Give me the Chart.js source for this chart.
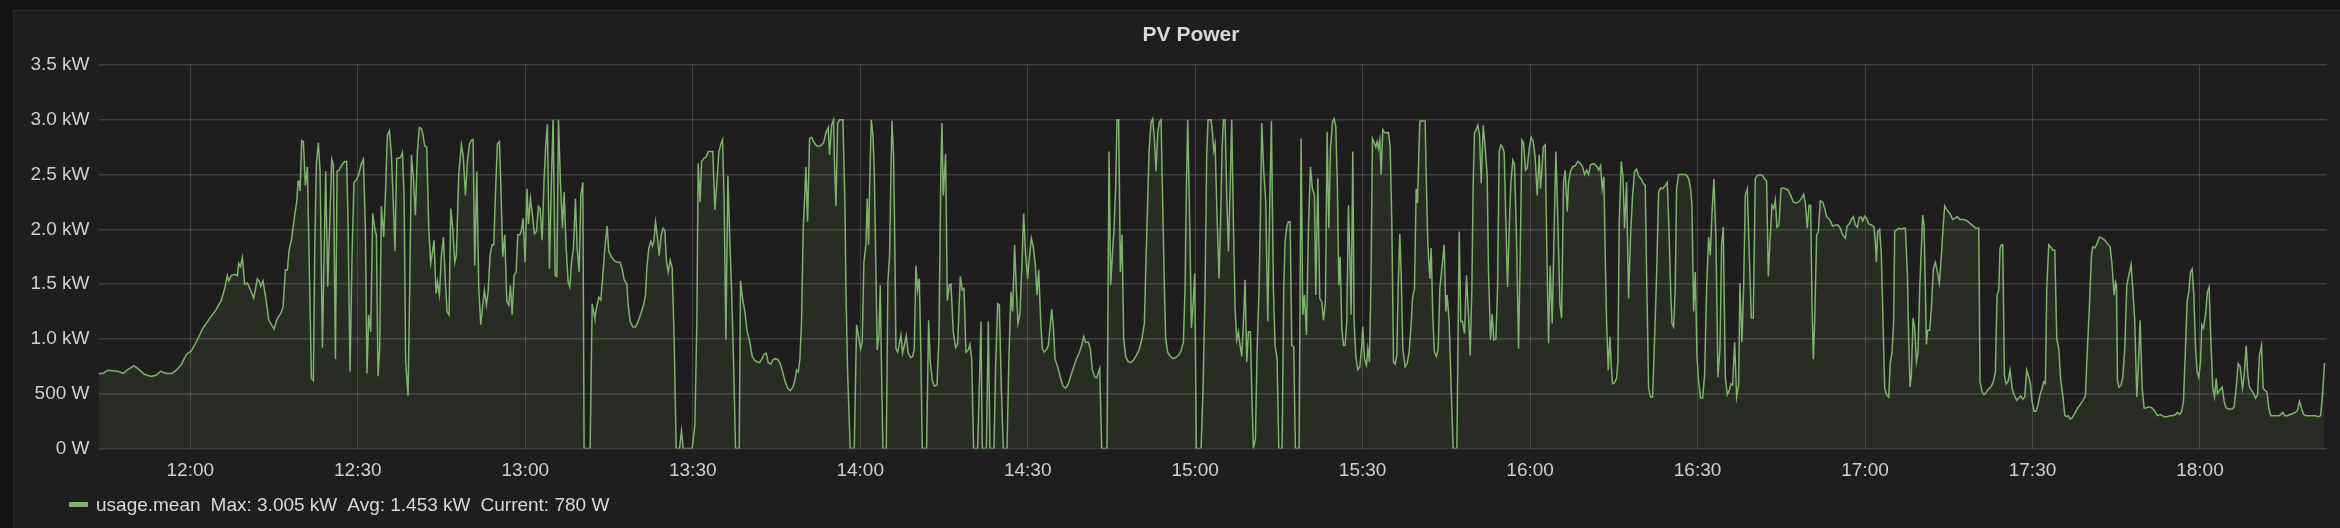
<!DOCTYPE html>
<html>
<head>
<meta charset="utf-8">
<title>PV Power</title>
<script src="https://cdn.jsdelivr.net/npm/chart.js@4.4.1/dist/chart.umd.min.js"></script>
<style>
  html, body { margin: 0; padding: 0; }
  body {
    width: 2340px; height: 528px; overflow: hidden; position: relative;
    background: #141414;
    font-family: "Liberation Sans", Arial, sans-serif;
  }
  .panel {
    position: absolute; left: 13px; top: 10px; right: 0; bottom: 0;
    background: #1f1d1e; border-top: 1px solid #2a2a2a; border-left: 1px solid #262626;
  }
  #chart { position: absolute; left: 0; top: 0; }
  .title {
    position: absolute; left: 1041px; width: 300px; top: 22px; line-height: 24px;
    text-align: center; color: #d8d9da; font-size: 21px; font-weight: bold;
  }
  .legend {
    position: absolute; left: 69px; top: 493px; line-height: 24px;
    color: #d8d9da; font-size: 19px; white-space: nowrap;
  }
  .legend .swatch {
    display: inline-block; width: 19px; height: 5px; background: #7eb26d;
    border-radius: 1px; vertical-align: middle; margin-right: 8px; position: relative; top: -1px;
  }
  .legend .stat { margin-left: 10px; }
</style>
</head>
<body>
<div class="panel"></div>
<canvas id="chart" width="2340" height="528"></canvas>
<div class="title" id="title"></div>
<div class="legend" id="legend"></div>

<script>
// PV power panel (Grafana style)

const panelTitle = 'PV Power';
const seriesName = 'usage.mean';
const legendStats = ['Max: 3.005 kW', 'Avg: 1.453 kW', 'Current: 780 W'];

// x axis: minutes after 12:00
const timeTicks = [0, 30, 60, 90, 120, 150, 180, 210, 240, 270, 300, 330, 360];
const timeLabels = ['12:00', '12:30', '13:00', '13:30', '14:00', '14:30', '15:00',
                    '15:30', '16:00', '16:30', '17:00', '17:30', '18:00'];
const timeRange = [-16.45, 382.7];

// y axis: kW
const powerTicks = [0, 0.5, 1, 1.5, 2, 2.5, 3, 3.5];
const powerLabels = ['0 W', '500 W', '1.0 kW', '1.5 kW', '2.0 kW', '2.5 kW', '3.0 kW', '3.5 kW'];

// [minutes after 12:00, kW]
const usageMean = [
  [-16.43,0.685],[-15.65,0.685],[-14.76,0.715],[-13.86,0.71],[-12.96,0.705],[-12.07,0.685],[-11.17,0.72],[-10.10,0.755],
  [-9.08,0.715],[-8.18,0.675],[-6.99,0.657],[-6.09,0.67],[-5.32,0.705],[-4.30,0.685],[-3.29,0.685],[-2.51,0.715],
  [-1.61,0.767],[-0.72,0.858],[0.18,0.89],[1.08,0.974],[2.27,1.10],[3.47,1.187],[4.66,1.27],[5.56,1.354],[6.15,1.46],
  [6.63,1.58],[6.87,1.53],[7.35,1.58],[7.95,1.59],[8.42,1.576],[8.66,1.69],[8.96,1.66],[9.32,1.74],[9.74,1.50],
  [10.22,1.51],[10.93,1.43],[11.35,1.37],[12.01,1.55],[12.43,1.52],[12.61,1.48],[13.02,1.53],[13.62,1.34],[14.04,1.17],
  [14.52,1.13],[15.00,1.09],[15.59,1.187],[16.19,1.23],[16.61,1.29],[17.03,1.63],[17.39,1.63],[17.68,1.81],[18.10,1.90],
  [18.70,2.13],[19.06,2.25],[19.30,2.44],[19.48,2.44],[19.66,2.35],[19.95,2.81],[20.25,2.80],[20.61,2.40],[20.97,2.57],
  [21.27,1.77],[21.69,0.64],[22.04,0.62],[22.28,1.80],[22.58,2.60],[22.94,2.79],[23.24,2.53],[23.66,0.92],[23.96,1.77],
  [24.25,2.53],[24.61,1.476],[24.97,2.07],[25.33,2.64],[25.63,2.59],[25.99,0.815],[26.29,2.53],[26.64,2.54],[27.18,2.59],
  [27.66,2.62],
  [28.01,2.62],[28.25,2.07],[28.61,0.70],[28.97,1.77],[29.32,2.43],[29.74,2.45],[30.16,2.50],[30.64,2.60],[31.00,2.64],
  [31.36,2.01],[31.65,0.685],[31.95,1.22],[32.31,1.065],[32.67,2.145],[33.03,2.01],[33.33,1.95],[33.63,0.66],[33.92,0.91],
  [34.22,2.21],[34.64,1.93],[34.94,2.31],[35.30,2.86],[35.66,2.90],[36.02,2.68],[36.31,2.31],[36.67,1.80],[36.97,2.65],
  [37.33,2.65],[37.69,2.66],[37.99,2.70],[38.29,2.31],[38.58,0.79],[39.00,0.48],[39.30,1.46],[39.60,2.68],[39.96,2.465],
  [40.32,2.13],[40.67,2.71],[41.03,2.93],[41.39,2.92],[41.69,2.86],[41.99,2.76],[42.35,2.75],[42.71,2.01],[43.06,1.69],
  [43.30,1.765],[43.66,1.90],[44.02,1.415],[44.26,1.52],[44.62,1.40],[44.98,1.765],[45.34,1.93],[45.69,1.52],[45.99,1.25],
  [46.35,1.22],[46.65,2.19],[47.01,2.01],[47.37,1.70],[47.66,1.765],[48.08,2.50],[48.56,2.77],[48.92,2.65],[49.28,2.31],
  [49.64,2.62],[50.00,2.78],[50.35,2.815],[50.65,2.82],[50.95,1.67],[51.31,2.53],[51.67,1.46],[52.03,1.13],[52.38,1.31],
  [52.68,1.445],[53.04,1.31],[53.34,1.43],[53.70,1.765],[54.06,1.86],[54.36,1.86],[54.65,2.31],[55.01,2.78],[55.37,2.80],
  [55.61,2.43],[55.97,1.75],[56.33,1.95],[56.69,1.345],[57.04,1.31],[57.34,1.49],[57.64,1.22],[58.00,1.58],[58.36,1.61],
  [58.66,1.95],[59.02,1.95],[59.31,1.99],[59.61,2.10],[59.97,1.70],[60.33,2.37],[60.57,2.05],[60.93,2.28],[61.29,2.13],
  [61.64,1.96],[62.00,1.98],[62.36,2.21],[62.66,2.19],[63.02,1.90],[63.38,2.465],[63.67,2.77],[63.97,2.96],[64.33,1.64],
  [64.69,2.465],[64.99,3.00],[65.35,1.58],[65.65,1.57],[65.95,3.00],[66.30,2.43],[66.66,2.01],[66.96,2.34],[67.32,1.83],
  [67.68,1.52],[67.98,1.475],[68.28,1.70],[68.63,1.83],[68.99,2.28],[69.29,1.83],[69.65,1.61],[69.95,2.31],[70.31,2.43],
  [70.54,0],[71.62,0],[71.98,1.32],[72.34,1.22],
  [72.46,1.19],[72.75,1.28],[73.17,1.38],[73.53,1.355],[73.89,1.58],[74.25,1.83],[74.67,2.03],[74.96,1.80],[75.44,1.75],
  [76.04,1.71],[76.52,1.70],[76.99,1.70],[77.35,1.64],[77.71,1.54],[78.19,1.50],[78.43,1.31],[78.79,1.16],[79.27,1.11],
  [79.74,1.11],[80.22,1.16],[80.70,1.23],[81.18,1.31],[81.54,1.40],[81.77,1.64],[82.13,1.83],[82.49,1.89],[82.79,1.85],
  [83.03,1.89],[83.33,2.07],[83.69,1.92],[83.99,1.76],[84.34,1.95],[84.70,2.01],[85.00,1.99],[85.30,1.70],[85.60,1.61],
  [85.96,1.72],[86.31,1.65],[86.67,1.00],[87.03,0],[87.63,0],[87.99,0.16],[88.29,0],[89.90,0],[90.38,0.21],[90.74,1.16],
  [90.97,2.60],[91.33,2.25],[91.57,2.62],[92.05,2.65],[92.41,2.66],[92.77,2.71],[93.13,2.71],[93.60,2.71],[93.96,2.18],
  [94.32,2.43],[94.68,2.71],[95.04,2.78],[95.34,2.82],[95.63,2.25],[95.93,0.99],[96.29,2.49],[96.65,1.89],[96.95,1.46],
  [97.31,0.79],[97.67,0],[98.32,0],[98.56,1.53],[98.92,1.37],[99.34,1.25],[99.70,1.08],[100.23,0.97],[100.65,0.84],
  [101.01,0.81],[101.49,0.79],[101.97,0.785],[102.32,0.81],[102.80,0.86],[103.16,0.87],[103.52,0.785],[104.00,0.77],
  [104.36,0.81],[104.71,0.82],[105.19,0.815],[105.61,0.785],[106.03,0.715],[106.51,0.62],[106.99,0.55],[107.46,0.53],
  [107.94,0.56],[108.30,0.62],[108.60,0.715],[108.90,0.70],[109.20,0.82],[109.49,1.16],[109.79,2.01],[110.09,2.34],
  [110.27,2.57],[110.57,2.07],[110.93,2.83],[111.29,2.84],[111.76,2.79],[112.24,2.76],[112.84,2.76],[113.44,2.79],
  [113.91,2.89],[114.27,2.93],[114.51,2.68],[114.87,2.95],[115.23,3.00],[115.35,2.68],[115.65,2.21],[115.95,2.97],
  [116.31,3.00],[116.90,3.00],
  [117.26,2.24],[117.44,1.46],[117.74,0.70],[118.21,0],[118.93,0],[119.35,1.13],[119.77,1.00],[120.07,0.91],[120.36,0.97],
  [120.66,1.70],[121.02,1.86],[121.26,2.28],[121.50,1.86],[121.74,2.53],[121.98,3.00],[122.28,2.86],[122.52,2.53],
  [122.81,1.64],[123.05,0.90],[123.35,1.035],[123.59,1.49],[123.83,0.67],[124.07,0],[124.67,0],[124.96,1.52],[125.26,1.765],
  [125.44,2.31],[125.68,2.99],[125.98,2.68],[126.22,1.765],[126.40,0.91],[126.70,0.88],[127.06,0.97],[127.29,1.035],
  [127.59,0.87],[127.89,0.94],[128.25,1.03],[128.61,0.87],[129.03,0.83],[129.39,0.84],[129.68,0.91],[129.98,1.67],
  [130.28,1.445],[130.58,1.55],[130.82,1.00],[131.12,0],[131.89,0],[132.25,1.17],[132.55,0.79],[132.91,0.62],[133.27,0.57],
  [133.75,0.58],[134.10,1.00],[134.46,2.59],[134.64,2.97],[134.88,2.31],[135.30,2.69],[135.60,1.35],[135.96,1.49],
  [136.26,1.50],[136.67,1.065],[137.09,0.92],[137.45,0.95],[137.93,1.57],[138.29,1.445],[138.59,1.46],[138.94,0.88],
  [139.36,0.90],[139.66,0.95],[139.96,0.82],[140.32,0],[141.03,0],[141.33,0.55],[141.63,1.16],[141.87,0],[142.59,0],
  [142.95,1.16],[143.24,0],[143.96,0],[144.26,0.76],[144.62,1.32],[144.92,1.31],[145.28,0.55],[145.63,0],[146.29,0],
  [146.65,0.85],[147.01,1.43],[147.31,1.25],[147.66,1.86],[147.96,1.46],[148.26,1.14],[148.62,1.23],[148.98,1.70],
  [149.28,2.145],[149.64,1.765],[149.99,1.55],[150.29,1.735],[150.65,1.92],[151.01,1.84],[151.37,1.67],[151.67,1.40],
  [151.97,1.63],[152.33,1.16],[152.62,0.91],[152.98,0.88],[153.34,0.90],[153.70,0.94],[154.00,1.10],[154.30,1.27],
  [154.60,1.10],[154.89,0.82],[155.37,0.745],[155.85,0.65],[156.33,0.57],[156.81,0.55],[157.28,0.59],[157.76,0.67],
  [158.24,0.745],[158.72,0.815],[159.20,0.87],[159.67,0.94],[160.03,1.02],[160.39,0.97],[160.87,0.97],[161.23,0.91],
  [161.59,0.715],[162.06,0.65],
  [162.36,0.645],[162.90,0.73],[163.26,0],[164.21,0],[164.57,2.71],[164.87,1.49],[165.17,1.765],[165.47,2.01],[165.77,2.40],
  [166.00,3.00],[166.30,3.00],[166.60,1.61],[166.90,1.95],[167.20,1.00],[167.56,0.84],[168.03,0.79],[168.51,0.785],
  [168.99,0.81],[169.47,0.85],[169.95,0.90],[170.42,0.99],[170.90,1.14],[171.14,1.61],[171.44,2.16],[171.74,2.71],
  [172.10,2.98],[172.40,3.01],[172.69,2.83],[172.99,2.53],[173.29,2.88],[173.59,2.98],[173.89,3.00],[174.19,2.22],
  [174.49,1.46],[174.73,1.00],[175.08,0.88],[175.56,0.84],[176.04,0.82],[176.52,0.83],[177.00,0.85],[177.47,0.89],
  [177.89,0.97],[178.19,1.46],[178.43,2.37],[178.67,3.00],[178.97,2.22],[179.33,1.10],[179.62,1.31],[179.92,1.60],
  [180.22,0],[181.06,0],[181.42,0.55],[181.78,1.46],[182.07,2.68],[182.31,3.00],[182.85,3.00],[183.09,2.89],[183.33,2.72],
  [183.57,2.78],[183.87,2.22],[184.28,1.55],[184.58,2.13],[184.82,2.74],[185.06,3.00],[185.36,3.00],[185.66,2.31],
  [185.96,1.80],[186.26,2.37],[186.55,3.00],[186.85,2.07],[187.15,1.28],[187.45,0.99],[187.75,1.065],[188.05,0.94],
  [188.35,0.84],[188.65,1.16],[188.94,1.54],[189.24,0.79],[189.54,1.065],[189.90,1.065],[190.20,0.40],[190.44,0],
  [190.80,0.09],[191.10,0.91],[191.45,1.46],[191.69,2.13],[191.93,2.97],[192.29,2.53],[192.65,2.25],[193.01,1.16],
  [193.36,2.22],[193.66,2.99],[194.02,1.46],[194.32,0.94],[194.68,0.82],[194.98,0],[195.57,0],[195.87,1.46],[196.11,1.89],
  [196.41,2.02],[196.71,2.07],[197.01,2.07],[197.31,0.94],[197.66,0.93],[197.96,0],[198.62,0],[198.98,2.83],[199.28,1.22],
  [199.58,1.40],[199.94,1.035],[200.29,2.01],[200.65,2.57],[201.01,2.37],[201.37,2.31],[201.61,1.40],[201.97,2.465],
  [202.32,1.37],[202.68,1.34],[202.98,1.17],[203.34,1.34],[203.64,2.89],[203.94,2.01],[204.24,2.74],[204.60,2.98],
  [204.89,3.01],[205.19,2.94],[205.49,2.37],[205.73,1.49],[205.97,1.75],[206.27,1.10],[206.57,0.94],[206.86,0.94],
  [207.16,1.16],[207.46,2.22],[207.70,1.765],[207.94,1.22],[208.24,2.71],[208.48,1.16],[208.78,0.84],[209.13,0.72],
  [209.49,0.745],[209.85,0.94],[210.03,1.11],[210.33,0.82],[210.69,0.76],[210.93,0.91],[211.23,0.79],[211.52,1.61],
  [211.76,2.83],[212.00,2.80],[212.36,2.75],[212.60,2.80],[212.84,2.74],[213.08,2.815],[213.32,2.50],[213.61,2.91],
  [213.91,2.885],[214.27,2.88],[214.63,2.885],[214.93,2.75],[215.23,2.07],[215.53,0.79],[215.83,0.77],[216.12,0.85],
  [216.36,1.46],[216.66,1.96],[216.90,1.61],[217.20,0.91],[217.62,0.745],[217.98,0.775],[218.33,0.88],[218.69,1.13],
  [218.93,1.37],[219.29,1.46],[219.59,2.37],[219.83,2.24],[220.07,2.68],[220.25,2.99],[220.72,2.99],[221.20,2.99],
  [221.44,2.37],[221.68,1.87],[222.04,1.55],[222.28,1.83],[222.58,1.19],[222.87,0.88],[223.23,0.84],[223.53,0.91],
  [223.83,1.46],[224.19,1.64],[224.61,1.86],[224.91,1.25],[225.14,1.40],[225.50,1.16],[225.86,0.55],[226.22,0],[226.88,0],
  [227.30,1.98],[227.59,1.16],[227.89,1.16],[228.25,1.05],[228.61,1.58],[228.97,1.22],[229.27,0.85],[229.57,1.46],
  [229.80,2.40],[230.04,2.88],[230.28,2.90],[230.64,2.95],[230.94,2.86],[231.24,2.42],[231.60,2.95],[231.96,2.74],
  [232.31,2.50],[232.55,1.61],[232.91,0.99],[233.21,1.23],[233.51,0.99],[233.87,1.00],[234.17,1.46],[234.46,2.71],
  [234.76,2.77],[235.06,2.75],[235.36,2.70],[235.66,2.07],[235.96,1.475],[236.26,2.01],[236.56,2.43],[236.91,2.63],
  [237.21,2.59],[237.57,1.92],[237.93,0.91],[238.23,1.765],[238.53,2.815],[238.83,2.79],[239.18,2.54],[239.48,2.56],
  [239.84,2.74],[240.20,2.84],[240.56,2.80],[240.92,2.65],[241.27,2.31],[241.63,2.68],[241.87,2.37],[242.17,2.59],
  [242.35,2.75],[242.71,2.77],[243.01,1.765],[243.31,0.96],[243.60,1.67],[243.96,1.14],[244.26,1.89],[244.62,2.71],
  [244.98,2.07],[245.34,1.32],[245.64,1.19],[245.99,2.43],[246.29,2.54],[246.65,2.16],[246.89,2.43],[247.25,2.53],
  [247.61,2.57],[248.08,2.58],[248.56,2.62],[249.04,2.60],[249.40,2.57],[249.76,2.50],[250.12,2.54],[250.47,2.50],
  [250.83,2.59],[251.31,2.60],[251.67,2.59],
  [252.03,2.57],[252.32,2.54],[252.62,2.58],[252.92,2.37],[253.22,2.48],[253.46,1.765],[253.70,1.16],[254.00,0.715],
  [254.30,1.02],[254.54,0.76],[254.77,0.59],[255.13,0.60],[255.49,0.64],[255.73,0.79],[255.97,2.07],[256.33,2.62],
  [256.63,2.48],[256.92,2.01],[257.28,2.43],[257.64,1.37],[258.00,1.95],[258.36,2.31],[258.72,2.53],[259.07,2.55],
  [259.43,2.49],[259.91,2.46],[260.27,2.42],[260.63,2.40],[260.87,1.61],[261.23,0.55],[261.58,0.47],[261.94,0.47],
  [262.30,1.00],[262.66,1.58],[263.02,2.34],[263.38,2.38],[263.73,2.37],[264.21,2.40],[264.57,2.43],[264.87,2.01],
  [265.17,1.46],[265.41,1.14],[265.71,1.11],[266.00,1.46],[266.24,2.37],[266.60,2.50],[266.96,2.50],[267.44,2.50],
  [267.92,2.50],[268.39,2.465],[268.75,2.37],[268.99,2.22],[269.29,1.25],[269.59,1.61],[269.89,0.85],[270.19,0.61],
  [270.54,0.46],[270.90,0.46],[271.26,0.67],[271.62,1.46],[271.98,1.93],[272.28,1.765],[272.58,2.145],[272.93,2.46],
  [273.29,1.93],[273.65,0.65],[274.01,0.91],[274.31,1.86],[274.61,2.02],[274.97,0.65],[275.32,0.49],[275.68,0.53],
  [275.98,0.59],[276.28,0.58],[276.64,0.97],[277.00,0.47],[277.36,0.58],[277.59,1.51],[277.95,0.97],[278.25,1.46],
  [278.55,2.31],[278.91,2.37],[279.27,1.765],[279.63,1.19],[279.98,1.19],[280.34,2.465],[280.70,2.49],[281.18,2.50],
  [281.66,2.49],[282.02,2.46],[282.37,2.44],[282.67,1.57],[282.97,1.89],[283.33,2.22],[283.63,2.19],[283.93,2.27],
  [284.22,2.02],[284.58,2.04],[284.94,2.37],[285.30,2.38],[285.72,2.37],[286.20,2.36],[286.67,2.31],[287.15,2.25],
  [287.63,2.24],[288.11,2.25],[288.59,2.28],[289.00,2.32],[289.30,2.24],[289.66,2.01],[289.96,2.22],[290.26,2.22],
  [290.50,1.31],[290.74,0.815],[290.98,1.16],[291.33,1.95],[291.63,1.98],[291.99,2.26],[292.41,2.25],[292.77,2.19],
  [293.13,2.115],[293.49,2.10],[293.84,2.07],[294.20,2.03],[294.68,2.04],[295.16,2.04],[295.58,2.01],[295.99,1.95],
  [296.47,1.92],
  [296.77,2.03],[297.19,2.05],[297.55,2.09],[297.90,2.115],[298.26,2.04],[298.62,2.02],[298.98,2.11],[299.34,2.11],
  [299.58,2.075],[299.93,2.12],[300.29,2.10],[300.65,2.05],[301.13,2.04],[301.61,2.02],[301.85,1.89],[302.03,1.70],
  [302.26,1.98],[302.62,2.00],[302.92,1.765],[303.22,1.16],[303.52,0.55],[303.88,0.49],[304.24,0.47],[304.53,0.79],
  [304.83,0.87],[305.13,1.16],[305.31,1.98],[305.73,2.00],[306.15,2.01],[306.51,2.00],[306.86,2.01],[307.22,2.01],
  [307.58,1.61],[307.82,1.00],[308.06,0.56],[308.30,0.67],[308.60,1.19],[308.90,1.10],[309.20,0.79],[309.49,0.88],
  [309.79,1.46],[310.09,1.83],[310.33,2.13],[310.57,2.04],[310.81,1.46],[310.99,0.95],[311.23,1.08],[311.58,1.08],
  [311.88,1.28],[312.24,1.64],[312.60,1.70],[312.96,1.61],[313.32,1.51],[313.68,1.765],[313.97,2.01],[314.27,2.215],
  [314.63,2.18],[314.99,2.16],[315.35,2.13],[315.71,2.09],[316.06,2.10],[316.54,2.115],[317.02,2.09],[317.50,2.09],
  [317.98,2.085],[318.45,2.07],[318.93,2.05],[319.41,2.03],[319.89,2.01],[320.37,2.01],[320.60,0.61],[320.96,0.52],
  [321.32,0.49],[321.68,0.51],[322.04,0.54],[322.52,0.56],[322.99,0.61],[323.35,0.70],[323.65,1.40],[323.95,1.445],
  [324.19,1.83],[324.43,1.86],[324.67,1.86],[324.97,0.67],[325.26,0.59],[325.62,0.61],[325.98,0.715],[326.34,0.55],
  [326.70,0.49],[327.18,0.44],[327.53,0.46],[327.89,0.48],[328.25,0.45],[328.61,0.47],[328.97,0.715],[329.33,0.65],
  [329.63,0.59],[329.92,0.43],[330.28,0.34],[330.64,0.34],[331.00,0.40],[331.36,0.49],[331.72,0.55],[332.02,0.61],
  [332.31,0.59],[332.55,1.46],[332.91,1.86],[333.27,1.84],[333.63,1.81],[333.99,1.81],[334.35,1.00],[334.70,0.91],
  [335.06,0.62],[335.42,0.49],[335.78,0.30],[336.14,0.29],[336.38,0.30],[336.74,0.27],[337.09,0.28],[337.57,0.32],
  [338.05,0.365],[338.53,0.40],[339.00,0.435],[339.48,0.48],[339.78,0.85],[340.20,1.31],[340.56,1.765],[340.80,1.84],
  [341.16,1.83],
  [341.57,1.87],[341.99,1.93],[342.47,1.92],[342.94,1.90],[343.42,1.87],[343.90,1.84],[344.26,1.67],[344.62,1.40],
  [344.86,1.52],[345.04,1.49],[345.22,0.62],[345.51,0.56],[345.87,0.58],[346.17,0.65],[346.53,0.91],[346.89,1.49],
  [347.25,1.58],[347.66,1.68],[347.96,1.46],[348.32,1.16],[348.68,0.47],[348.92,0.70],[349.28,1.17],[349.64,0.55],
  [349.99,0.37],[350.35,0.37],[350.83,0.38],[351.43,0.37],[351.91,0.34],[352.38,0.30],[352.86,0.31],[353.22,0.30],
  [353.70,0.29],[354.18,0.29],[354.65,0.30],[355.13,0.30],[355.61,0.31],[355.97,0.33],[356.33,0.31],[356.69,0.335],
  [357.04,0.43],[357.40,0.91],[357.70,1.34],[358.00,1.43],[358.30,1.61],[358.60,1.64],[358.90,1.40],[359.19,0.94],
  [359.49,0.70],[359.79,0.65],[360.09,0.79],[360.33,1.13],[360.63,1.10],[360.99,1.22],[361.34,1.43],[361.64,1.475],
  [361.94,1.00],[362.30,0.55],[362.60,0.47],[362.90,0.64],[363.14,0.50],[363.49,0.53],[363.97,0.56],[364.33,0.43],
  [364.69,0.37],[365.17,0.36],[365.77,0.36],[366.12,0.38],[366.48,0.55],[366.84,0.775],[367.20,0.745],[367.62,0.55],
  [367.92,0.67],[368.28,0.94],[368.57,0.67],[368.87,0.56],[369.23,0.53],[369.59,0.50],[369.95,0.46],[370.31,0.49],
  [370.66,0.85],[371.02,0.94],[371.32,0.55],[371.62,0.53],[371.98,0.52],[372.34,0.365],[372.70,0.30],[373.17,0.30],
  [373.65,0.30],[374.13,0.30],[374.49,0.31],[374.85,0.33],[375.21,0.30],[375.68,0.30],[376.16,0.31],[376.64,0.32],
  [377.12,0.33],[377.47,0.35],[377.83,0.43],[378.19,0.365],[378.55,0.31],[379.03,0.30],[379.63,0.30],[380.22,0.30],
  [380.70,0.30],[381.18,0.29],[381.60,0.30],[381.90,0.46],[382.31,0.78]
];

const FONT = "'Liberation Sans', Arial, sans-serif";
Chart.defaults.font.family = FONT;
Chart.defaults.font.size = 19;
Chart.defaults.color = '#cfd0d1';

function buildLegend() {
  document.getElementById('title').textContent = panelTitle;
  const el = document.getElementById('legend');
  el.innerHTML = '<span class="swatch"></span><span>' + seriesName + '</span>' +
    legendStats.map(s => '<span class="stat">' + s + '</span>').join('');
}

function drawChart() {
  const ctx = document.getElementById('chart').getContext('2d');
  new Chart(ctx, {
    type: 'line',
    data: {
      datasets: [{
        label: seriesName,
        data: usageMean.map(([m, kw]) => ({ x: m, y: kw })),
        borderColor: '#7eb26d',
        backgroundColor: 'rgba(126, 178, 109, 0.1)',
        borderWidth: 1.5,
        pointRadius: 0,
        tension: 0,
        fill: 'origin'
      }]
    },
    options: {
      responsive: false,
      animation: false,
      events: [],
      layout: { padding: { left: 0, right: 13.3, top: 65, bottom: 34.5 } },
      plugins: {
        legend: { display: false },
        title: { display: false },
        tooltip: { enabled: false }
      },
      scales: {
        x: {
          type: 'linear',
          min: timeRange[0],
          max: timeRange[1],
          afterBuildTicks: scale => { scale.ticks = timeTicks.map(v => ({ value: v })); },
          afterFit: scale => { scale.height = 45; },
          ticks: {
            autoSkip: false,
            maxRotation: 0,
            padding: 11,
            callback: (v, i) => timeLabels[i]
          },
          grid: { color: 'rgba(255,255,255,0.17)', lineWidth: 1, drawTicks: false },
          border: { display: false }
        },
        y: {
          min: 0,
          max: 3.5,
          afterBuildTicks: scale => { scale.ticks = powerTicks.map(v => ({ value: v })); },
          afterFit: scale => { scale.width = 98.5; },
          ticks: {
            padding: 9,
            callback: (v, i) => powerLabels[i]
          },
          grid: { color: 'rgba(255,255,255,0.14)', lineWidth: 1.6, drawTicks: false },
          border: { display: false }
        }
      }
    }
  });
}

buildLegend();
drawChart();
</script>
</body>
</html>
